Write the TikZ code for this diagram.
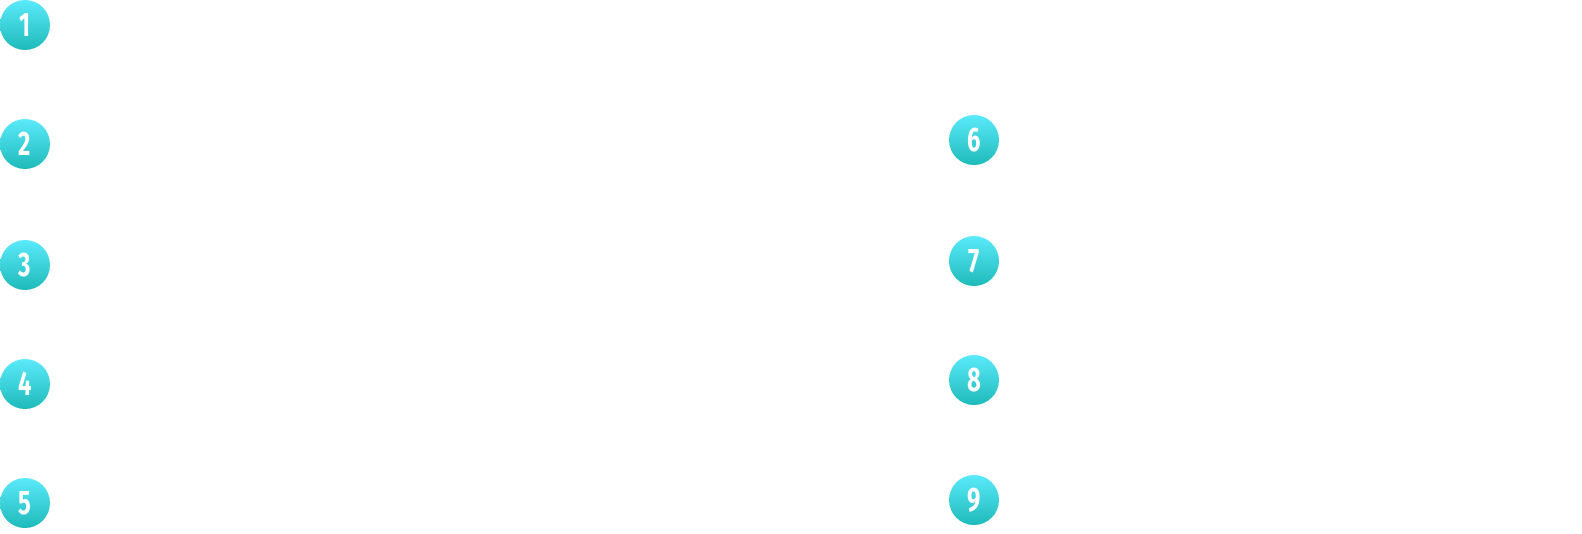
\documentclass[tikz,border=0pt]{standalone}
\usepackage{fontspec}
\newfontfamily\badgefont[FakeStretch=0.7]{Fira Sans}
\usepackage{tikz}
\usetikzlibrary{positioning}
\definecolor{badgetop}{RGB}{90,234,250}
\definecolor{badgebottom}{RGB}{30,186,186}

\begin{document}
\begin{tikzpicture}[x=1pt, y=-1pt,
      badge/.style={circle, minimum size=50pt, inner sep=0pt, top color=badgetop, bottom color=badgebottom, text=white, font=\badgefont\bfseries\fontsize{34}{34}\selectfont}]

      \useasboundingbox (0,0) rectangle (1582,533);

      % Left column
      \foreach \n/\y in {1/25, 2/144, 3/265, 4/384, 5/503} {
        \node[badge] (n\n) at (25,\y) {\n};
      }

      % Right column
      \foreach \n/\y in {6/140, 7/261, 8/380, 9/500} {
        \node[badge] (n\n) at (974,\y) {\n};
      }
    \end{tikzpicture}
\end{document}
